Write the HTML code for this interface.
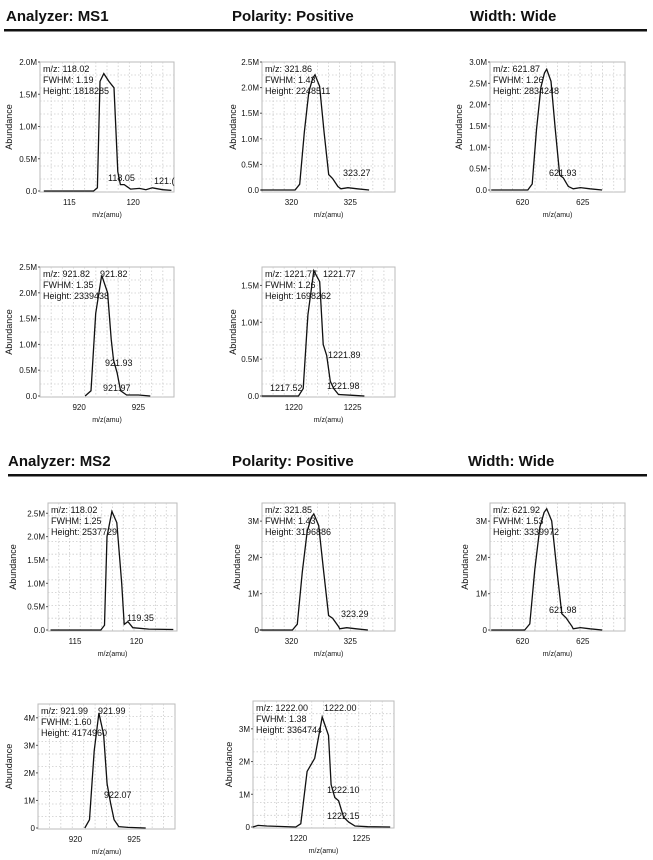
<!DOCTYPE html>
<html><head><meta charset="utf-8"><style>
body{margin:0;background:#fff;width:653px;height:860px;overflow:hidden}
svg{display:block}
text{font-family:"Liberation Sans",sans-serif;fill:#111}
.h{font-size:15px;font-weight:bold}
</style></head><body>
<svg id="s" width="653" height="860" xmlns="http://www.w3.org/2000/svg">
<text class="h" x="6" y="21">Analyzer: MS1</text>
<text class="h" x="232" y="21">Polarity: Positive</text>
<text class="h" x="470" y="21">Width: Wide</text>
<rect x="4" y="29" width="643" height="2.5" fill="#111"/>
<text class="h" x="8" y="466">Analyzer: MS2</text>
<text class="h" x="232" y="466">Polarity: Positive</text>
<text class="h" x="468" y="466">Width: Wide</text>
<rect x="8" y="474" width="639" height="2.5" fill="#111"/>
</svg>
<script>
var S=document.getElementById('s'),NS='http://www.w3.org/2000/svg';
function el(t,a,txt){var e=document.createElementNS(NS,t);for(var k in a)e.setAttribute(k,a[k]);if(txt!=null)e.textContent=txt;S.appendChild(e);return e;}
function plot(p){
 var L=p.L,R=p.R,T=p.T,B=p.B,y0=p.y0;
 var X=function(v){return L+(v-p.xmin)/(p.xmax-p.xmin)*(R-L)};
 var Y=function(v){return y0-v/p.ymax*(y0-p.ytop)};
 el('rect',{x:L,y:T,width:R-L,height:B-T,fill:'none',stroke:'#bbb','stroke-width':1});
 for(var gx=L+(R-L)/12;gx<R-1;gx+=(R-L)/12)el('line',{x1:gx,y1:T,x2:gx,y2:B,stroke:'#ccc','stroke-dasharray':'1.5,2','stroke-width':0.8});
 for(var gy=T+(B-T)/10;gy<B-1;gy+=(B-T)/10)el('line',{x1:L,y1:gy,x2:R,y2:gy,stroke:'#ccc','stroke-dasharray':'1.5,2','stroke-width':0.8});
 p.yt.forEach(function(t){el('text',{x:L-3,y:Y(t[0])+3,'font-size':8,'text-anchor':'end'},t[1]);el('line',{x1:L-2,y1:Y(t[0]),x2:L,y2:Y(t[0]),stroke:'#555'})});
 p.xt.forEach(function(t){el('text',{x:X(t),y:B+13,'font-size':8,'text-anchor':'middle'},t)});
 el('text',{x:(L+R)/2,y:B+25,'font-size':7,'text-anchor':'middle'},'m/z(amu)');
 el('text',{transform:'translate('+(p.ax||L-30)+','+((T+B)/2)+') rotate(-90)','font-size':9,'text-anchor':'middle'},'Abundance');
 var d='';p.pts.forEach(function(q,i){d+=(i?'L':'M')+X(q[0]).toFixed(1)+','+Y(q[1]).toFixed(1)});
 el('path',{d:d,fill:'none',stroke:'#111','stroke-width':1.3});
 el('text',{x:L+3,y:T+10,'font-size':9},p.a[0]);el('text',{x:L+3,y:T+21,'font-size':9},p.a[1]);el('text',{x:L+3,y:T+32,'font-size':9},p.a[2]);
 (p.lab||[]).forEach(function(t){el('text',{x:t[0],y:t[1],'font-size':9},t[2])});
}
function pk(c,h,o){o=o||{};var s=o.s||0.9;return [[c-4.6,0],[c-1.3*s,0],[c-1.0*s,0.05*h],[c-0.7*s,0.5*h],[c-0.4*s,0.85*h],[c-0.15*s,h*0.97],[c,h],[c+0.3*s,0.9*h],[c+0.6*s,0.5*h],[c+0.9*s,o.sh||0.08*h],[c+1.15*s,0.1*h],[c+1.5*s,0.03*h],[c+2.2,0.01*h],[c+2.8,0.02*h],[c+3.6,0.01*h],[c+4.6,0]];}
plot({L:40,R:174,T:62,B:192,y0:191,ytop:62,ymax:2,xmin:112.7,xmax:123.2,
 yt:[[0,'0.0'],[0.5,'0.5M'],[1,'1.0M'],[1.5,'1.5M'],[2,'2.0M']],xt:[115,120],
 pts:[[113,0],[116.9,0],[117.2,0.05],[117.4,1.7],[117.7,1.82],[118.1,1.7],[118.5,1.6],[118.8,0.3],[119,0.1],[119.3,0.1],[119.8,0.03],[120.5,0.04],[121,0.02],[121.5,0.05],[122.3,0.02],[123,0.01]],
 a:['m/z: 118.02','FWHM: 1.19','Height: 1818285'],lab:[[108,181,'118.05'],[154,184,'121.(']],ax:12});
plot({L:262,R:395,T:62,B:192,y0:190,ytop:62,ymax:2.5,xmin:317.5,xmax:328.8,
 yt:[[0,'0.0'],[0.5,'0.5M'],[1,'1.0M'],[1.5,'1.5M'],[2,'2.0M'],[2.5,'2.5M']],xt:[320,325],
 pts:pk(322,2.25,{s:1.3,sh:0.3}),a:['m/z: 321.86','FWHM: 1.43','Height: 2248511'],lab:[[343,176,'323.27']],ax:236});
plot({L:490,R:625,T:62,B:192,y0:190,ytop:62,ymax:3,xmin:617.3,xmax:628.5,
 yt:[[0,'0.0'],[0.5,'0.5M'],[1,'1.0M'],[1.5,'1.5M'],[2,'2.0M'],[2.5,'2.5M'],[3,'3.0M']],xt:[620,625],
 pts:pk(622,2.83,{s:1.2,sh:0.35}),a:['m/z: 621.87','FWHM: 1.26','Height: 2834248'],lab:[[549,176,'621.93']],ax:462});
plot({L:40,R:174,T:267,B:397,y0:396,ytop:267,ymax:2.5,xmin:916.7,xmax:928,
 yt:[[0,'0.0'],[0.5,'0.5M'],[1,'1.0M'],[1.5,'1.5M'],[2,'2.0M'],[2.5,'2.5M']],xt:[920,925],
 pts:[[920.5,0],[921,0.1],[921.4,1.6],[921.9,2.34],[922.4,2.0],[922.7,1.1],[922.9,0.7],[923.2,0.45],[923.5,0.1],[924,0.02],[925,0.02],[926,0]],
 a:['m/z: 921.82','FWHM: 1.35','Height: 2339438'],lab:[[100,277,'921.82'],[105,366,'921.93'],[103,391,'921.97']],ax:12});
plot({L:262,R:395,T:267,B:397,y0:396,ytop:267,ymax:1.75,xmin:1217.3,xmax:1228.6,
 yt:[[0,'0.0'],[0.5,'0.5M'],[1,'1.0M'],[1.5,'1.5M']],xt:[1220,1225],
 pts:[[1217.3,0],[1220.4,0],[1220.8,0.1],[1221.2,1.1],[1221.7,1.7],[1222.2,1.55],[1222.5,0.7],[1222.8,0.55],[1223.1,0.2],[1223.4,0.1],[1223.8,0.02],[1225,0.01],[1226,0]],
 a:['m/z: 1221.77','FWHM: 1.26','Height: 1698262'],lab:[[323,277,'1221.77'],[328,358,'1221.89'],[327,389,'1221.98'],[270,391,'1217.52']],ax:236});
plot({L:48,R:177,T:503,B:631,y0:630,ytop:503,ymax:2.72,xmin:112.8,xmax:123.3,
 yt:[[0,'0.0'],[0.5,'0.5M'],[1,'1.0M'],[1.5,'1.5M'],[2,'2.0M'],[2.5,'2.5M']],xt:[115,120],
 pts:[[113,0],[117.1,0],[117.4,0.1],[117.6,2.0],[118,2.54],[118.4,2.3],[118.8,1.0],[119,0.12],[119.3,0.18],[119.7,0.05],[121,0.02],[123,0.01]],
 a:['m/z: 118.02','FWHM: 1.25','Height: 2537729'],lab:[[127,621,'119.35']],ax:16});
plot({L:262,R:395,T:503,B:631,y0:630,ytop:503,ymax:3.5,xmin:317.5,xmax:328.8,
 yt:[[0,'0'],[1,'1M'],[2,'2M'],[3,'3M']],xt:[320,325],
 pts:pk(321.9,3.2,{s:1.4,sh:0.4}),a:['m/z: 321.85','FWHM: 1.43','Height: 3196886'],lab:[[341,617,'323.29']],ax:240});
plot({L:490,R:625,T:503,B:631,y0:630,ytop:503,ymax:3.5,xmin:617.3,xmax:628.5,
 yt:[[0,'0'],[1,'1M'],[2,'2M'],[3,'3M']],xt:[620,625],
 pts:pk(622,3.34,{s:1.4,sh:0.45}),a:['m/z: 621.92','FWHM: 1.53','Height: 3339972'],lab:[[549,613,'621.98']],ax:468});
plot({L:38,R:175,T:704,B:829,y0:828,ytop:704,ymax:4.5,xmin:916.8,xmax:928.5,
 yt:[[0,'0'],[1,'1M'],[2,'2M'],[3,'3M'],[4,'4M']],xt:[920,925],
 pts:[[920.8,0],[921.2,0.3],[921.6,2.8],[922,4.17],[922.4,3.4],[922.7,1.6],[923,0.9],[923.3,0.3],[923.7,0.05],[924.5,0.02],[926,0]],
 a:['m/z: 921.99','FWHM: 1.60','Height: 4174960'],lab:[[98,714,'921.99'],[104,798,'922.07']],ax:12});
plot({L:253,R:394,T:701,B:828,y0:827,ytop:701,ymax:3.85,xmin:1216.4,xmax:1227.6,
 yt:[[0,'0'],[1,'1M'],[2,'2M'],[3,'3M']],xt:[1220,1225],
 pts:[[1216.4,0],[1216.8,0.05],[1217.5,0.03],[1219.8,0],[1220.2,0.1],[1220.7,1.7],[1221.3,2.1],[1221.9,3.36],[1222.4,2.8],[1222.6,1.3],[1222.9,0.9],[1223.2,0.8],[1223.6,0.3],[1224,0.15],[1224.5,0.03],[1225.5,0.01],[1227.3,0]],
 a:['m/z: 1222.00','FWHM: 1.38','Height: 3364744'],lab:[[324,711,'1222.00'],[327,793,'1222.10'],[327,819,'1222.15']],ax:232});
</script>
</body></html>
